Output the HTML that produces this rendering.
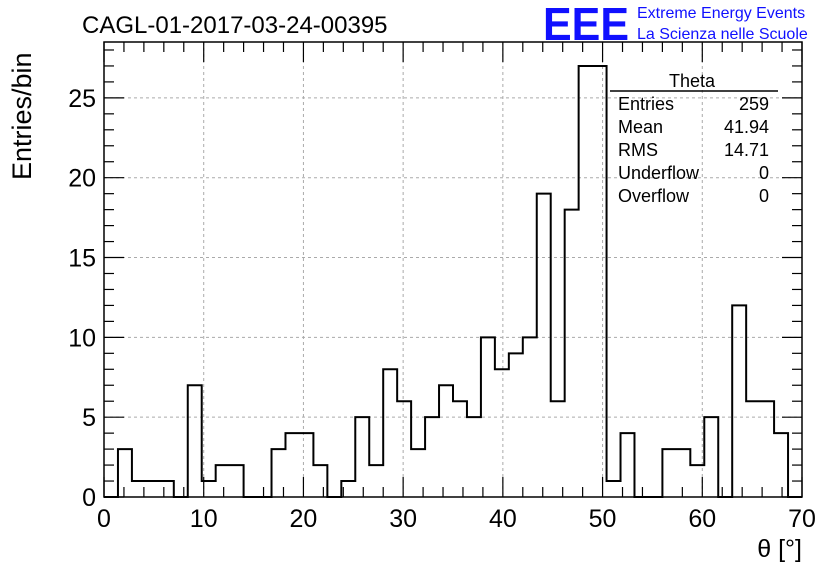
<!DOCTYPE html>
<html><head><meta charset="utf-8"><style>
body{margin:0;background:#fff;}
svg text{font-family:"Liberation Sans",sans-serif;}
</style></head><body>
<svg id="c" width="836" height="572" xmlns="http://www.w3.org/2000/svg">
<text x="82" y="33" font-size="24">CAGL-01-2017-03-24-00395</text>
<text x="543" y="40" font-size="46" fill="#1010ff" font-weight="bold" textLength="86" lengthAdjust="spacingAndGlyphs">EEE</text>
<text x="637" y="18" font-size="16" fill="#1010ff">Extreme Energy Events</text>
<text x="637" y="39" font-size="16" fill="#1010ff">La Scienza nelle Scuole</text>
<text transform="translate(31,180) rotate(-90)" font-size="27" text-anchor="start">Entries/bin</text>
<text x="802" y="557" font-size="25" text-anchor="end">θ [°]</text>
<g id="grid"></g><g id="hist"></g><g id="axes"></g>
<g font-size="18">
<text x="692" y="87" text-anchor="middle">Theta</text>
<line x1="610" y1="91" x2="778" y2="91" stroke="#000" stroke-width="1.5"/>
<text x="618" y="110">Entries</text><text x="769" y="110" text-anchor="end">259</text>
<text x="618" y="133">Mean</text><text x="769" y="133" text-anchor="end">41.94</text>
<text x="618" y="156">RMS</text><text x="769" y="156" text-anchor="end">14.71</text>
<text x="618" y="179">Underflow</text><text x="769" y="179" text-anchor="end">0</text>
<text x="618" y="202">Overflow</text><text x="769" y="202" text-anchor="end">0</text>
</g>
</svg>
<script>
const binEdges=[0,70];
const binCount=50;
const counts=[0,3,1,1,1,0,7,1,2,2,0,0,3,4,4,2,0,1,5,2,8,6,3,5,7,6,5,10,8,9,10,19,6,18,27,27,1,4,0,0,3,3,2,5,0,12,6,6,4,0];
const xTicks=[0,10,20,30,40,50,60,70];
const yTicks=[0,5,10,15,20,25];
const yMax=28.5;
const L=104,R=802,T=42,B=497;
const NS='http://www.w3.org/2000/svg';
const X=v=>L+(v-binEdges[0])/(binEdges[1]-binEdges[0])*(R-L);
const Y=v=>B-v/yMax*(B-T);
function mk(tag,attrs,parent){const e=document.createElementNS(NS,tag);for(const k in attrs)e.setAttribute(k,attrs[k]);parent.appendChild(e);return e;}
const grid=document.getElementById('grid'),hist=document.getElementById('hist'),axes=document.getElementById('axes');
xTicks.forEach(t=>{if(t>binEdges[0]&&t<binEdges[1]){const l=mk('line',{x1:X(t),x2:X(t),y1:T,y2:B,stroke:'#aaa','stroke-dasharray':'3,3'},grid);

}});
yTicks.forEach(t=>{if(t>0){const l=mk('line',{x1:L,x2:R,y1:Y(t),y2:Y(t),stroke:'#aaa','stroke-dasharray':'3,3'},grid);

}});
const w=(binEdges[1]-binEdges[0])/binCount;
let d='M'+X(binEdges[0])+','+Y(0);
counts.forEach((c,i)=>{const x0=X(binEdges[0]+i*w),x1=X(binEdges[0]+(i+1)*w);d+=' L'+x0+','+Y(c)+' L'+x1+','+Y(c);});
d+=' L'+X(binEdges[1])+','+Y(0);
const p=mk('path',{d:d,fill:'none',stroke:'#000','stroke-width':2},hist);


const fr=mk('rect',{x:L,y:T,width:R-L,height:B-T,fill:'none',stroke:'#000','stroke-width':1.5},axes);


for(let v=0;v<=70;v+=2){const big=v%10===0,len=big?20:10;
mk('line',{x1:X(v),x2:X(v),y1:B,y2:B-len,stroke:'#000','stroke-width':1.2},axes);
mk('line',{x1:X(v),x2:X(v),y1:T,y2:T+len,stroke:'#000','stroke-width':1.2},axes);}
for(let v=0;v<=28;v++){const big=v%5===0,len=big?20:10;
mk('line',{x1:L,x2:L+len,y1:Y(v),y2:Y(v),stroke:'#000','stroke-width':1.2},axes);
mk('line',{x1:R,x2:R-len,y1:Y(v),y2:Y(v),stroke:'#000','stroke-width':1.2},axes);}
xTicks.forEach(t=>{const e=mk('text',{x:X(t),y:B+30,'font-size':25,'text-anchor':'middle'},axes);e.textContent=t;

});
yTicks.forEach(t=>{const e=mk('text',{x:L-8,y:Y(t)+9,'font-size':25,'text-anchor':'end'},axes);e.textContent=t;

});
</script>
</body></html>
